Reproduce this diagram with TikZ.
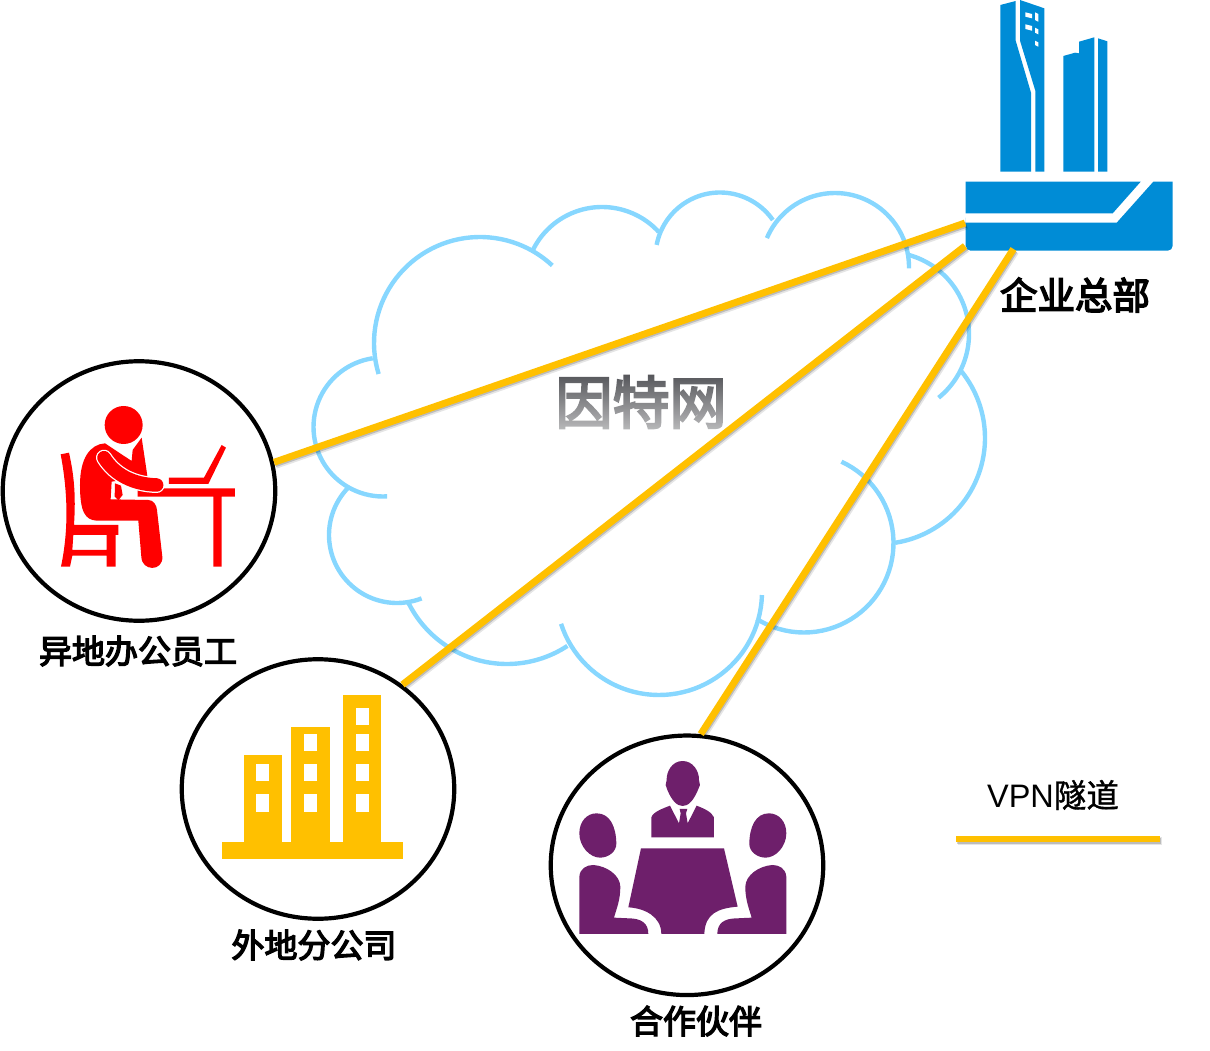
\documentclass[tikz,border=0pt]{standalone}
\usepackage{fontspec}
\newfontfamily\cjk[FakeBold=4]{Noto Sans CJK SC}
\newfontfamily\cjkthin[FakeBold=1.2]{Noto Sans CJK SC}
\setmainfont{Liberation Sans}
\usetikzlibrary{shapes.geometric,fadings}
\definecolor{cloudblue}{HTML}{87D7FF}
\definecolor{tunnelgold}{HTML}{FFC000}
\definecolor{hqblue}{HTML}{008CD6}
\definecolor{meetpurple}{HTML}{6E1F6B}
\definecolor{markgray}{HTML}{55565A}
\tikzset{
	cloudline/.style={draw=cloudblue,line width=4.4pt},
	tunnel/.style={draw=tunnelgold,line width=#1,
		preaction={draw=black,opacity=.1,line width=8pt,transform canvas={xshift=1.6pt,yshift=-2.4pt}},
		preaction={draw=black,opacity=.18,line width=5.5pt,transform canvas={xshift=1.3pt,yshift=-2pt}}},
	tunnel/.default=6.9pt,
	bubble/.style={shape=ellipse,draw=black,line width=4.2pt,fill=white,minimum width=272.5pt,minimum height=259.5pt,inner sep=0pt},
	caption/.style={font=\cjk\fontsize{33}{33}\selectfont,inner sep=0pt},
}
\begin{document}
\begin{tikzpicture}[>=latex,x=1pt,y=-1pt]
	\useasboundingbox (0,0) rectangle (1210,1051);
	%cloud: centre x, centre y, radius, from, to
	\foreach \cx/\cy/\rr/\sa/\ea in {480/343/106/163/313,602/284/77/206/317.5,720/257/64.5/190.8/325,835/267/74/203/361,
		887/334/82/-75/51,879/438/106/-39.3/81.3,804/543/89.5/-65.3/122,659/592/103/1.7/162,
		507/554/110/56.7/154.8,397/535/68/68.8/224.4,383/427/69.5/86.6/261.5}
		\draw[cloudline] plot[domain=\sa:\ea,samples=48,variable=\t] ({\cx+\rr*cos(\t)},{\cy+\rr*sin(\t)});
	%watermark
	\node (mark) at (641,402)[inner sep=0pt,text=markgray]{\cjk\fontsize{57}{57}\selectfont 因特网};
	\fill[white,fill opacity=.6,path fading=north] (553,374) rectangle (729,431);
	%sites
	\node (staff) at (139,491)[bubble]{};
	\node (branch) at (318,789)[bubble]{};
	\node (partner) at (687,865.3)[bubble]{};
	%headquarters
	\fill[hqblue] (1000.3,5)--(1015.7,1)--(1015.7,40.7)--(1031,92.7)--(1031,171.7)--(1000.3,171.7)--cycle;
	\fill[hqblue] (1020,0)--(1044.3,8.3)--(1044.3,171.7)--(1035.3,171.7)--(1035.3,90.7)--(1020,40.7)--cycle;
	\fill[white] (1025.3,12.3)--(1032,14)--(1032,18.3)--(1025.3,16.7)--cycle;
	\fill[white] (1035,12.3)--(1038.3,14)--(1038.3,21.7)--(1035,20)--cycle;
	\fill[white] (1025.3,24.3)--(1032,26)--(1032,30.7)--(1025.3,29)--cycle;
	\fill[white] (1035,27.7)--(1038.3,29.3)--(1038.3,34.3)--(1035,32.7)--cycle;
	\fill[white] (1035,40.7)--(1038.3,42.3)--(1038.3,46.7)--(1035,45)--cycle;
	\fill[hqblue] (1063.3,56)--(1075,52.7)--(1079,53.3)--(1079,41.7)--(1094.3,37.3)--(1094.3,171.7)--(1063.3,171.7)--cycle;
	\fill[hqblue] (1098,38.3)--(1107.3,41.3)--(1107.3,171.7)--(1098,171.7)--cycle;
	\fill[hqblue] (965.7,181.7)--(1140.7,181.7)--(1112.7,213.3)--(965.7,213.3)--cycle;
	\fill[hqblue] (965.7,222.7)--(1116.7,222.7)--(1153.3,181.7)--(1172.7,181.7){[rounded corners=5pt]--(1172.7,250.7)--(965.7,250.7)--(965.7,222.7)}--cycle;
	\coordinate (hqa) at (965,223);\coordinate (hqb) at (965,246);\coordinate (hqc) at (1013.5,249);
	%tunnels
	\draw[tunnel] (staff.12)--(hqa);
	\draw[tunnel] (branch.51.6)--(hqb);
	\draw[tunnel] (partner.84.3)--(hqc);
	%person at laptop
	\begin{scope}[x=.3333pt,y=-.3333pt,shift={(0pt,-355pt)}]
		\fill[red] (371,210) circle (19pt);
		\fill[red,even odd rule] (182,298)..controls (205,420) and (205,530)..(183,635)--(210,635)--(217,602)--(320,602)--(320,635)--(347,635)--(347,540)--(355,540)--(355,510)--(222,510)..controls (228,420) and (222,360)..(207,293)--cycle
			(220,540)--(320,540)--(320,585)--(217,585)--cycle;
		\fill[red] (315,265)--(395,318)--(398,285)--(425,248)--(442,362)--(400,370)--(335,380)--(332,433)--(445,435)..controls (460,435) and (470,450)..(471,465)--(487,605)..controls (490,650) and (425,650)..(424,605)--(415,497)--(290,497)..controls (255,495) and (240,470)..(240,390)..controls (240,310) and (270,268)..(315,265)--cycle;
		\fill[red] (345,385)--(363,392)--(368,420)--(355,436)--(344,425)--cycle;
		\fill[red] (413,400)--(705,400)--(705,425)--(665,425)--(665,635)--(640,635)--(640,425)--(413,425)--cycle;
		\fill[red] (507,368)--(612,368)--(665,270)--(678,278)--(625,387)--(507,387)--cycle;
		\draw[white,line width=16pt,line cap=round] (312,308)..controls (345,360) and (400,388)..(470,390);
		\draw[red,line width=13.5pt,line cap=round] (312,308)..controls (345,360) and (400,388)..(470,390);
	\end{scope}
	%office towers
	\begin{scope}[x=.3333pt,y=-.3333pt,shift={(170pt,-650pt)}]
		\fill[tunnelgold] (156,576) rectangle (699,627);
		\fill[tunnelgold] (221,316) rectangle (337,576);
		\fill[tunnelgold] (363,231) rectangle (480,576);
		\fill[tunnelgold] (518,135) rectangle (634,576);
		\foreach \wx/\wy in {259/342,259/433,402/251,402/342,402/433,557/174,557/251,557/342,557/433}
			\fill[white] (\wx,\wy) rectangle +(39.5,52);
	\end{scope}
	%meeting
	\begin{scope}[x=.3333pt,y=-.3333pt,shift={(545pt,-730pt)},meetpurple]
		\fill (413,93)..controls (445,93) and (463,125)..(462,150)--(465,165)--(458,182)..controls (445,212) and (430,228)..(413,228)..controls (396,228) and (381,212)..(368,182)--(362,165)--(365,150)..controls (364,125) and (381,93)..(413,93)--cycle;
		\fill (319,322)--(319,262)..controls (325,245) and (355,235)..(375,227)--(402,280)--(407,250)--(404,237)--(427,237)--(423,250)--(428,280)--(455,227)..controls (475,235) and (500,245)..(507,262)--(507,322)--cycle;
		\fill (288,355)--(537,355)--(578,530)..controls (520,535) and (480,550)..(478,612)--(349,612)..controls (349,560) and (300,535)..(250,532)--cycle;
		\foreach \ox/\sx in {0/1,827/-1}{
			\fill ({\ox+\sx*155},250)..controls ({\ox+\sx*195},250) and ({\ox+\sx*213},290)..({\ox+\sx*214},340)..controls ({\ox+\sx*215},365) and ({\ox+\sx*190},383)..({\ox+\sx*165},383)..controls ({\ox+\sx*135},383) and ({\ox+\sx*103},350)..({\ox+\sx*103},310)..controls ({\ox+\sx*103},275) and ({\ox+\sx*125},250)..({\ox+\sx*155},250)--cycle;
			\fill ({\ox+\sx*103},612)--({\ox+\sx*103},440)..controls ({\ox+\sx*105},415) and ({\ox+\sx*125},405)..({\ox+\sx*145},405)..controls ({\ox+\sx*185},408) and ({\ox+\sx*225},435)..({\ox+\sx*226},470)..controls ({\ox+\sx*226},510) and ({\ox+\sx*215},535)..({\ox+\sx*207},563)--({\ox+\sx*250},565)..controls ({\ox+\sx*290},565) and ({\ox+\sx*310},580)..({\ox+\sx*310},612)--cycle;
		}
	\end{scope}
	%labels
	\node (hqlabel) at (1075,295)[caption,font=\cjk\fontsize{37.5}{37.5}\selectfont]{企业总部};
	\node (stafflabel) at (138,651)[caption]{异地办公员工};
	\node (branchlabel) at (314,945)[caption]{外地分公司};
	\node (partnerlabel) at (696,1021)[caption]{合作伙伴};
	%legend
	\node (legendlabel) at (1053,795)[inner sep=0pt,font=\fontsize{32.5}{32.5}\selectfont]{VPN{\cjkthin 隧道}};
	\coordinate (legenda) at (956,839);\coordinate (legendb) at (1160,839);
	\draw[tunnel=5.8pt] (legenda)--(legendb);
\end{tikzpicture}
\end{document}
